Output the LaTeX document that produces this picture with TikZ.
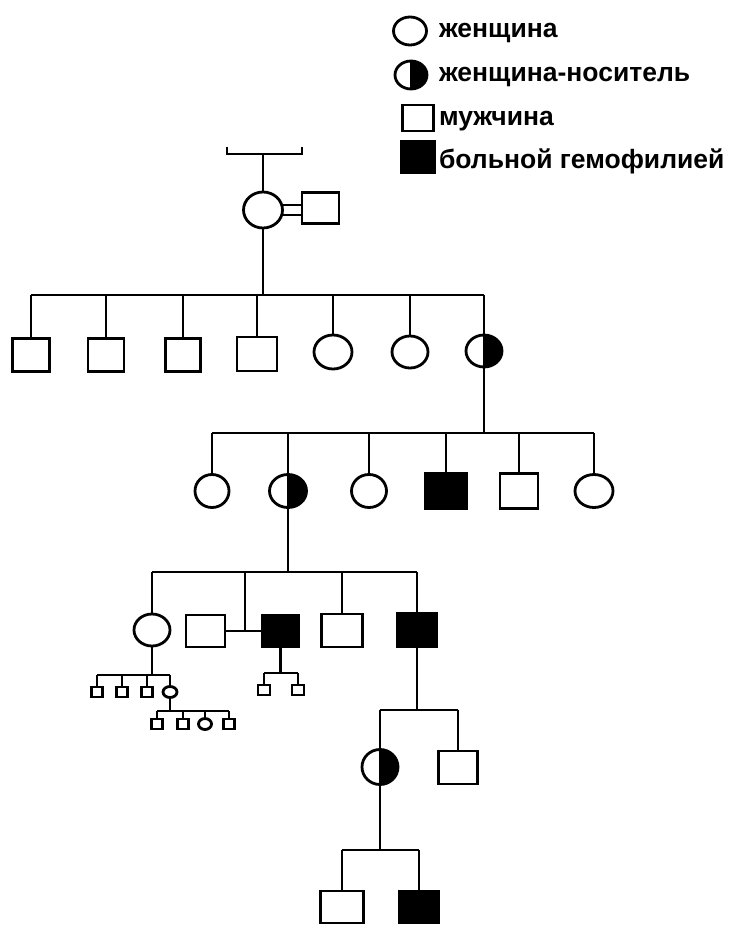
\documentclass[tikz,border=0pt]{standalone}
\usepackage{fontspec}
\setmainfont{Liberation Sans}
\usetikzlibrary{shapes.geometric}
\tikzset{
  every node/.style={inner sep=0pt, outer sep=0pt},
  sq/.style 2 args={rectangle, draw, minimum width=#1pt, minimum height=#2pt},
  aff/.style 2 args={rectangle, draw, fill=black, minimum width=#1pt, minimum height=#2pt},
  fm/.style 2 args={ellipse, draw, minimum width=#1pt, minimum height=#2pt},
  legtext/.style={anchor=base west, font=\bfseries\fontsize{26.5}{30}\selectfont}
}
\newcommand\carrierNode[5]{%
  \node[fm={#4}{#5}] (#1) at (#2,#3) {};
  \fill (#1.north) arc[start angle=90, end angle=-90, x radius={(#4)*0.5pt}, y radius={(#5)*0.5pt}] -- cycle;
  \draw (#1.north) -- (#1.south);
}
\begin{document}
\begin{tikzpicture}[x=1pt,y=-1pt,line width=2.8pt]
\useasboundingbox[fill=white] (0,0) rectangle (732,925);

% ---------- legend ----------
\node[fm={33}{28}] (lf) at (410,31) {};
\carrierNode{lc}{411}{75}{32}{28}
\node[sq={31}{26}] (lm) at (418,118) {};
\node[aff={33}{31}] (la) at (418,157) {};
\node[legtext] (t1) at (439,38) {женщина};
\node[legtext] (t2) at (439,82) {женщина-носитель};
\node[legtext] (t3) at (439,126) {мужчина};
\node[legtext] (t4) at (439,169) {больной гемофилией};

% ---------- generation 1 ----------
\coordinate (bl) at (227,147);
\coordinate (br) at (302,147);
\coordinate (bm) at (263,154);
\draw (bl) -- (bl |- bm) -- (br |- bm) -- (br);
\node[fm={39}{36}] (g1f) at (263,210) {};
\node[sq={37}{31}] (g1m) at (320.5,208) {};
\draw (bm) -- (g1f.north);
\draw (g1f.15) -- (g1f.15 -| g1m.west);
\draw (g1f.-15) -- (g1f.-15 -| g1m.west);

% ---------- generation 2 ----------
\coordinate (g2) at (263,295);
\draw (g1f.south) -- (g2);
\node[sq={37}{33}] (s1) at (31,355) {};
\node[sq={36}{33}] (s2) at (106,355) {};
\node[sq={35}{33}] (s3) at (183,355) {};
\node[sq={40}{34}] (s4) at (257,354) {};
\node[fm={38}{34}] (s5) at (333,352) {};
\node[fm={36}{32}] (s6) at (410,352) {};
\carrierNode{s7}{484}{351}{36}{32}
\draw (s1.north |- g2) -- (s7.north |- g2);
\foreach \n in {s1,s2,s3,s4,s5,s6,s7} \draw (\n.north) -- (\n.north |- g2);

% ---------- generation 3 ----------
\coordinate (g3) at (484,433);
\draw (s7.south) -- (g3);
\node[fm={34}{33}] (f1) at (212,491) {};
\carrierNode{c2}{288}{491}{37}{33}
\node[fm={35}{33}] (f3) at (369,491) {};
\node[aff={41}{35}] (a4) at (446,491) {};
\node[sq={38}{35}] (m5) at (519,491) {};
\node[fm={38}{33}] (f6) at (594,491) {};
\draw (f1.north |- g3) -- (f6.north |- g3);
\foreach \n in {f1,c2,f3,a4,m5,f6} \draw (\n.north) -- (\n.north |- g3);

% ---------- generation 4 ----------
\coordinate (g4) at (288,572);
\draw (c2.south) -- (g4);
\node[fm={36}{32}] (f41) at (152,630) {};
\node[sq={39}{32}] (m42) at (205.5,631) {};
\node[aff={37}{32}] (a43) at (280.5,631) {};
\node[sq={41}{33}] (m44) at (342,630.5) {};
\node[aff={39}{34}] (a45) at (417,630) {};
\coordinate (mar) at (245,631);
\draw (f41.north |- g4) -- (a45.north |- g4);
\foreach \n in {f41,m44,a45} \draw (\n.north) -- (\n.north |- g4);
\draw (mar |- g4) -- (mar);
\draw (m42.east) -- (a43.west);

% ---------- descendants of f41 ----------
\coordinate (g5a) at (152,675);
\draw (f41.south) -- (g5a);
\node[sq={11}{10}] (k1) at (97,692) {};
\node[sq={11}{10}] (k2) at (122,692) {};
\node[sq={11}{10}] (k3) at (147,692) {};
\node[fm={14}{11}] (k4) at (170,692) {};
\draw (k1.north |- g5a) -- (k4.north |- g5a);
\foreach \n in {k1,k2,k3,k4} \draw (\n.north) -- (\n.north |- g5a);
\coordinate (g6a) at (170,711);
\draw (k4.south) -- (g6a);
\node[sq={11}{10}] (n1) at (157,724) {};
\node[sq={11}{10}] (n2) at (183,724) {};
\node[fm={13}{11}] (n3) at (205,724) {};
\node[sq={11}{10}] (n4) at (229,724) {};
\draw (n1.north |- g6a) -- (n4.north |- g6a);
\foreach \n in {n1,n2,n3,n4} \draw (\n.north) -- (\n.north |- g6a);

% ---------- descendants of a43 ----------
\coordinate (g5b) at (280.5,673);
\draw (a43.south) -- (g5b);
\node[sq={12}{10}] (p1) at (264,690) {};
\node[sq={12}{10}] (p2) at (298,690) {};
\draw (p1.north |- g5b) -- (p2.north |- g5b);
\foreach \n in {p1,p2} \draw (\n.north) -- (\n.north |- g5b);

% ---------- descendants of a45 ----------
\coordinate (g5c) at (417,710);
\draw (a45.south) -- (g5c);
\carrierNode{c51}{380}{767}{36}{35}
\node[sq={39}{33}] (m52) at (458,767.5) {};
\draw (c51.north |- g5c) -- (m52.north |- g5c);
\foreach \n in {c51,m52} \draw (\n.north) -- (\n.north |- g5c);

\coordinate (g6c) at (380,850);
\draw (c51.south) -- (g6c);
\node[sq={43}{32}] (m61) at (342,907) {};
\node[aff={40}{32}] (a62) at (419,907) {};
\draw (m61.north |- g6c) -- (a62.north |- g6c);
\foreach \n in {m61,a62} \draw (\n.north) -- (\n.north |- g6c);
\end{tikzpicture}
\end{document}
